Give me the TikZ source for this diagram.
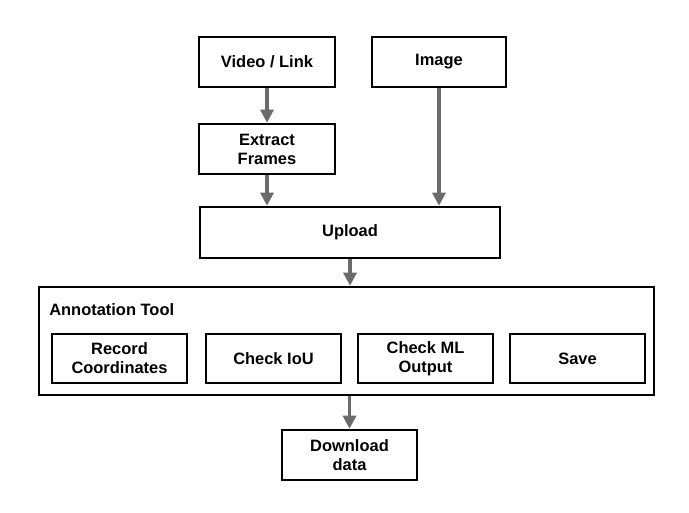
\documentclass[tikz,border=0pt]{standalone}
\usepackage{fontspec}
\setmainfont{Liberation Sans}
\usepackage{tikz}
\usetikzlibrary{arrows.meta,positioning}

\begin{document}
\begin{tikzpicture}[
  x=1cm,y=1cm,
  box/.style={draw, line width=1.8pt, align=center, minimum width=3.4cm, minimum height=1.25cm, font=\bfseries\fontsize{11.7}{13.5}\selectfont, inner sep=2pt},
  inner/.style={box, minimum width=3.375cm, minimum height=1.225cm},
  title/.style={font=\bfseries\fontsize{11.7}{13.5}\selectfont, inner sep=0pt},
  arr/.style={-{Triangle[length=3.3mm, width=3.3mm]}, line width=2.2pt, draw=black!58, color=black!58}
]
\useasboundingbox (0,0) rectangle (17.225,12.825);
\node[box] (video) at (6.675,11.275) {Video / Link};
\node[box, minimum width=3.35cm] (image) at (10.975,11.275) {Image};
\node[box] (extract) at (6.675,9.1) {Extract\\Frames};
\node[box, minimum width=7.5cm, minimum height=1.275cm] (upload) at (8.75,7.0125) {Upload};
\node[draw, line width=1.8pt, minimum width=15.375cm, minimum height=2.7cm] (tool) at (8.6625,4.3) {};
\node[title, anchor=north west] (tooltitle) at (1.225,5.25) {Annotation Tool};
\node[inner] (record) at (2.9875,3.8625) {Record\\Coordinates};
\node[inner] (iou) at (6.8375,3.8625) {Check IoU};
\node[inner] (mlout) at (10.6375,3.8625) {Check ML\\Output};
\node[inner] (save) at (14.4375,3.8625) {Save};
\node[box, minimum width=3.375cm] (download) at (8.7375,1.45) {Download\\data};
\draw[arr] (video) -- (extract);
\draw[arr] (extract.south) -- (extract.south |- upload.north);
\draw[arr] (image.south) -- (image.south |- upload.north);
\draw[arr] (upload.south) -- (upload.south |- tool.north);
\draw[arr] (download.north |- tool.south) -- (download.north);
\end{tikzpicture}
\end{document}
